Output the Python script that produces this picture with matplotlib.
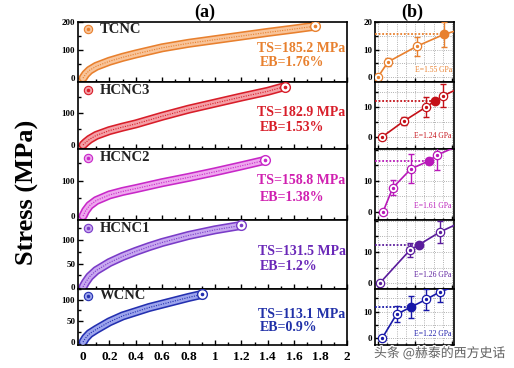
import matplotlib
matplotlib.use("Agg")
import matplotlib.pyplot as plt
import matplotlib.patheffects as pe
from matplotlib.ticker import MultipleLocator, FixedLocator

# ---------------- data: panel (a) full stress-strain curves ----------------
names = ["TCNC", "HCNC3", "HCNC2", "HCNC1", "WCNC"]
ts_text = ["TS=185.2 MPa", "TS=182.9 MPa", "TS=158.8 MPa", "TS=131.5 MPa", "TS=113.1 MPa"]
eb_text = ["EB=1.76%", "EB=1.53%", "EB=1.38%", "EB=1.2%", "EB=0.9%"]

strain_tcnc = [0, 0.02, 0.05, 0.1, 0.2, 0.3, 0.4, 0.6, 0.8, 1.0, 1.2, 1.4, 1.6, 1.76]
stress_tcnc = [0, 14, 28, 42, 60, 74, 86, 108, 124, 137, 150, 163, 175, 185.2]
strain_hcnc3 = [0, 0.02, 0.05, 0.1, 0.2, 0.3, 0.4, 0.6, 0.8, 1.0, 1.2, 1.4, 1.53]
stress_hcnc3 = [0, 8, 18, 30, 45, 56, 66, 90, 112, 131, 150, 168, 182.9]
strain_hcnc2 = [0, 0.02, 0.05, 0.1, 0.2, 0.3, 0.4, 0.6, 0.8, 1.0, 1.2, 1.38]
stress_hcnc2 = [0, 15, 30, 44, 60, 70, 78, 95, 110, 126, 143, 158.8]
strain_hcnc1 = [0, 0.02, 0.05, 0.1, 0.2, 0.3, 0.4, 0.5, 0.6, 0.8, 1.0, 1.2]
stress_hcnc1 = [0, 10, 22, 35, 52, 65, 76, 86, 95, 110, 122, 131.5]
strain_wcnc = [0, 0.02, 0.05, 0.1, 0.2, 0.3, 0.4, 0.5, 0.6, 0.7, 0.8, 0.9]
stress_wcnc = [0, 10, 20, 30, 48, 62, 72, 82, 90, 98, 106, 113.1]

curves_x = [strain_tcnc, strain_hcnc3, strain_hcnc2, strain_hcnc1, strain_wcnc]
curves_y = [stress_tcnc, stress_hcnc3, stress_hcnc2, stress_hcnc1, stress_wcnc]

# ---------------- data: panel (b) initial region ----------------
e_text = ["E=1.55 GPa", "E=1.24 GPa", "E=1.61 GPa", "E=1.26 GPa", "E=1.22 GPa"]
b_x_tcnc = [0.0, 0.027, 0.105, 0.178, 0.24]
b_y_tcnc = [0.0, 5.5, 11.2, 15.5, 18.0]
b_e_tcnc = [0, 1.4, 3.4, 4.5, 0]
b_x_hcnc3 = [0.011, 0.07, 0.13, 0.154, 0.176, 0.24]
b_y_hcnc3 = [0.0, 5.3, 10.0, 12.0, 13.7, 17.5]
b_e_hcnc3 = [0, 1.3, 3.2, 0, 3.8, 0]
b_x_hcnc2 = [0.0135, 0.04, 0.089, 0.138, 0.16, 0.22]
b_y_hcnc2 = [0.0, 7.8, 13.9, 16.5, 18.4, 21.5]
b_e_hcnc2 = [0, 2.4, 4.7, 0, 5.0, 0]
b_x_hcnc1 = [0.005, 0.086, 0.11, 0.168, 0.24]
b_y_hcnc1 = [0.0, 10.6, 12.3, 16.5, 20.5]
b_e_hcnc1 = [0, 2.3, 0, 3.5, 0]
b_x_wcnc = [0.011, 0.05, 0.09, 0.13, 0.168, 0.24]
b_y_wcnc = [0.0, 9.0, 11.8, 14.6, 17.5, 21.0]
b_e_wcnc = [0, 3.0, 4.0, 4.0, 4.0, 0]

b_xs = [b_x_tcnc, b_x_hcnc3, b_x_hcnc2, b_x_hcnc1, b_x_wcnc]
b_ys = [b_y_tcnc, b_y_hcnc3, b_y_hcnc2, b_y_hcnc1, b_y_wcnc]
b_es = [b_e_tcnc, b_e_hcnc3, b_e_hcnc2, b_e_hcnc1, b_e_wcnc]
b_filled = [3, 3, 3, 2, 2]  # index of the filled point

# ---------------- styling ----------------
dark = ["#E8802E", "#D81E2A", "#C828C8", "#7A3CC8", "#2430B0"]
light = ["#F8C49A", "#F4A0A6", "#EEA8EE", "#C8A8F0", "#9CA4EC"]
txtc = ["#E8802E", "#D81E2A", "#D020B0", "#6A28B8", "#2030A8"]
bdark = ["#E8802E", "#C41018", "#B818B8", "#5A1C9C", "#1818A8"]

left_ylims = [(-14, 200), (-12.5, 197), (-11.5, 191), (-4.5, 143), (-7, 126)]
left_yticks = [[0, 100, 200], [0, 100], [0, 100], [0, 50, 100], [0, 50, 100]]
left_minor = [50, 50, 50, 25, 25]
right_ylims = [(-1.8, 20), (-4, 18.3), (-2.6, 20.3), (-1.9, 20.3), (-2.5, 18.5)]
right_yticks = [[0, 10, 20], [0, 10], [0, 10], [0, 10], [0, 10]]

rows = [(22, 82), (82, 149), (149, 220), (220, 289), (289, 345)]
W, H = 514, 368
serif = ["Liberation Serif", "DejaVu Serif"]
plt.rcParams["font.family"] = serif
plt.rcParams["font.weight"] = "bold"

fig = plt.figure(figsize=(W / 100, H / 100), dpi=100)

def fx(px):
    return px / W

def fy(py):
    return 1 - py / H

for i in range(5):
    top, bot = rows[i]
    # ---- panel (a) ----
    ax = fig.add_axes([fx(78), fy(bot), fx(347 - 78), (bot - top) / H])
    ax.set_xlim(-0.038, 2.0)
    ax.set_ylim(*left_ylims[i])
    x, y = curves_x[i], curves_y[i]
    ax.plot(x, y, color=dark[i], lw=6.5, solid_capstyle="round", zorder=2)
    ax.plot(x, y, color=light[i], lw=4.2, solid_capstyle="round", zorder=3)
    ax.plot(x, y, color=dark[i], lw=0.8, ls=(0, (1, 1.2)), zorder=4)
    ax.plot(x[-1], y[-1], "o", ms=7, mfc="white", mec=dark[i], mew=1.0, zorder=5)
    ax.plot(x[-1], y[-1], "o", ms=1.6, color=dark[i], zorder=6)
    # legend marker + name
    ax.plot(0.038, 0.88, "o", transform=ax.transAxes, ms=6, mfc=light[i], mec=dark[i], mew=0.8, zorder=6)
    ax.plot(0.038, 0.88, "o", transform=ax.transAxes, ms=1.5, color=dark[i], zorder=7)
    ax.text(0.08, 0.88, names[i], transform=ax.transAxes, fontsize=10.5, fontweight="bold",
            va="center", ha="left", color="#222222")
    ax.text(0.995, 0.55, ts_text[i], transform=ax.transAxes, fontsize=10, fontweight="bold",
            va="center", ha="right", color=txtc[i])
    ax.text(0.675, 0.32, eb_text[i], transform=ax.transAxes, fontsize=10, fontweight="bold",
            va="center", ha="left", color=txtc[i])
    ax.yaxis.set_major_locator(FixedLocator(left_yticks[i]))
    ax.yaxis.set_minor_locator(MultipleLocator(left_minor[i]))
    ax.xaxis.set_major_locator(MultipleLocator(0.2))
    ax.xaxis.set_minor_locator(MultipleLocator(0.1))
    ax.tick_params(axis="both", which="both", direction="in", width=1.0)
    ax.tick_params(axis="both", which="major", length=3.5)
    ax.tick_params(axis="both", which="minor", length=2)
    ax.tick_params(axis="y", labelsize=6.5, pad=2)
    for lab in ax.get_yticklabels():
        lab.set_fontweight("bold")
    if i < 4:
        ax.tick_params(axis="x", labelbottom=False)
    else:
        ax.tick_params(axis="x", labelsize=9.5, pad=4)
        ax.set_xticks([0, 0.2, 0.4, 0.6, 0.8, 1.0, 1.2, 1.4, 1.6, 1.8, 2.0])
        ax.set_xticklabels(["0", "0.2", "0.4", "0.6", "0.8", "1", "1.2", "1.4", "1.6", "1.8", "2"],
                           fontweight="bold")
    for s in ax.spines.values():
        s.set_linewidth(1.2)

    # ---- panel (b) ----
    bx = fig.add_axes([fx(375), fy(bot), fx(454 - 375), (bot - top) / H])
    bx.set_xlim(-0.008, 0.205)
    bx.set_ylim(*right_ylims[i])
    bx.xaxis.set_major_locator(MultipleLocator(0.1))
    bx.xaxis.set_minor_locator(MultipleLocator(0.025))
    bx.yaxis.set_major_locator(FixedLocator(right_yticks[i]))
    bx.yaxis.set_minor_locator(MultipleLocator(5))
    bx.grid(which="both", axis="both", ls=":", color="#999999", lw=0.6)
    bx.set_axisbelow(True)
    xs, ys, es = b_xs[i], b_ys[i], b_es[i]
    k = b_filled[i]
    bx.plot(xs, ys, color=bdark[i], lw=1.2, zorder=3)
    for j in range(len(xs)):
        if es[j] > 0:
            bx.errorbar(xs[j], ys[j], yerr=es[j], color=bdark[i], lw=1.0, capsize=2.5,
                        capthick=1.0, zorder=3)
    bx.plot([-0.008, xs[k]], [ys[k], ys[k]], color=bdark[i], lw=1.3, ls=(0, (1, 1)), zorder=3)
    for j in range(len(xs)):
        if j == k:
            bx.plot(xs[j], ys[j], "o", ms=6, color=bdark[i], zorder=5)
        else:
            bx.plot(xs[j], ys[j], "o", ms=6, mfc="white", mec=bdark[i], mew=0.9, zorder=5)
            bx.plot(xs[j], ys[j], "o", ms=1.4, color=bdark[i], zorder=6)
    bx.text(0.97, 0.2, e_text[i], transform=bx.transAxes, fontsize=5.5, color=bdark[i],
            ha="right", va="center", fontweight="normal",
            bbox=dict(facecolor="white", edgecolor="none", pad=0.5))
    bx.tick_params(axis="both", which="both", direction="in", width=1.0)
    bx.tick_params(axis="both", which="major", length=3)
    bx.tick_params(axis="both", which="minor", length=1.8)
    bx.tick_params(axis="y", labelsize=6.5, pad=2)
    bx.tick_params(axis="x", labelbottom=False)
    for lab in bx.get_yticklabels():
        lab.set_fontweight("bold")
    for s in bx.spines.values():
        s.set_linewidth(1.2)

fig.text(fx(205), fy(12), "(a)", fontsize=13, fontweight="bold", ha="center", va="center")
fig.text(fx(412), fy(12), "(b)", fontsize=13, fontweight="bold", ha="center", va="center")
fig.text(fx(27), fy(192), "Stress (MPa)", fontsize=19, fontweight="bold", rotation=90,
         ha="center", va="center")

wm = fig.text(fx(374), fy(353), "头条 @赫泰的西方史话", fontsize=9.3,
              family=["Noto Sans CJK SC", "DejaVu Sans"], fontweight="normal",
              color="#555555", ha="left", va="center", alpha=0.9)
wm.set_path_effects([pe.withStroke(linewidth=2, foreground="white")])

fig.savefig("out.png", dpi=100)
